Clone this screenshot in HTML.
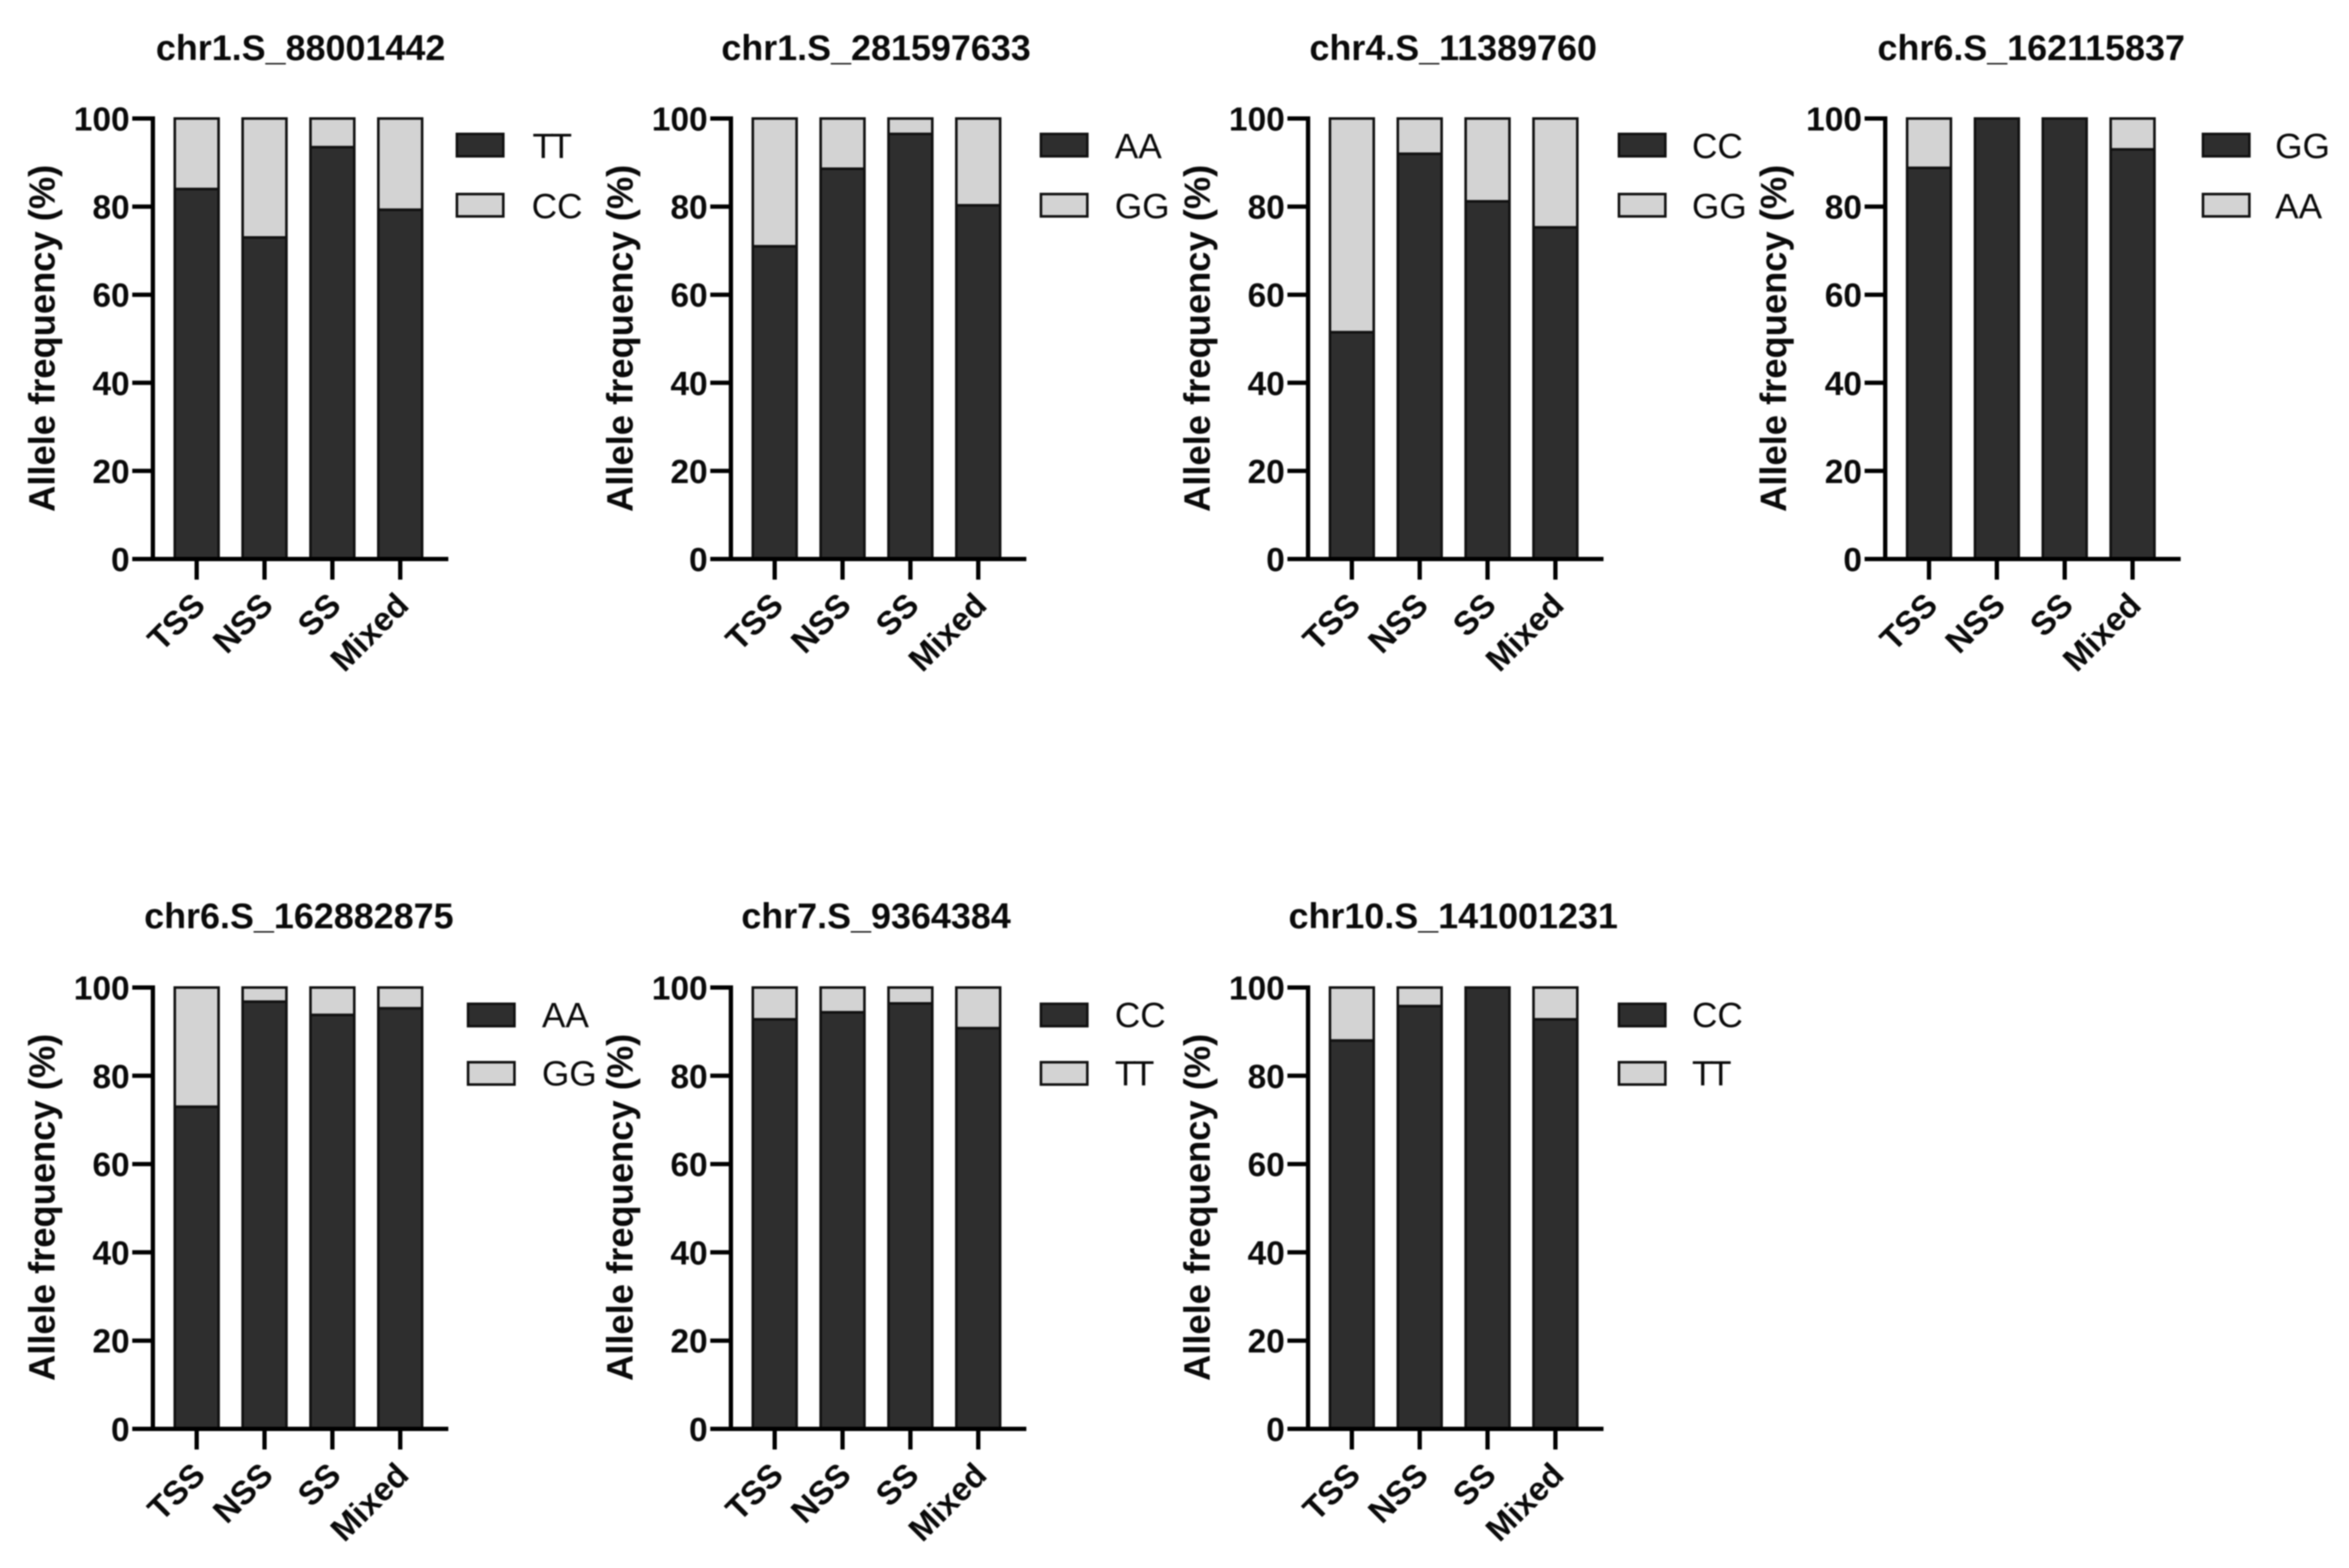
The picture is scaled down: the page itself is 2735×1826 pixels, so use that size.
<!DOCTYPE html>
<html lang="en">
<head>
<meta charset="utf-8">
<title>Allele frequency by group</title>
<style>
html,body{margin:0;padding:0;background:#fff;width:2735px;height:1826px;overflow:hidden}
svg{display:block;filter:blur(0.8px)}
text{font-family:"Liberation Sans",sans-serif;fill:#0a0a0a}
.title{font-size:41.8px;font-weight:700;text-anchor:middle}
.ylab{font-size:42.3px;font-weight:700;text-anchor:middle}
.tick{font-size:39px;font-weight:700;text-anchor:end}
.xlab{font-size:38.5px;font-weight:700;text-anchor:end}
.leg{font-size:41px}
.tt{letter-spacing:-4px}
.sw-d{fill:#2e2e2e;stroke:#111;stroke-width:3}
.sw-l{fill:#d3d3d3;stroke:#111;stroke-width:3}
</style>
</head>
<body>
<svg id="figure" xmlns="http://www.w3.org/2000/svg" width="2735" height="1826" viewBox="0 0 2735 1826">
<rect width="2735" height="1826" fill="#fff"/>

<g class="panel" transform="translate(178,0)" data-top="138" data-base="651">
  <text class="title" x="172" y="70">chr1.S_88001442</text>
  <text class="ylab" transform="translate(-114.5,394) rotate(-90)">Allele frequency (%)</text>
  <rect class="sw-d" x="354" y="156" width="54" height="26"/>
  <text class="leg tt" x="442" y="184">TT</text>
  <rect class="sw-l" x="354" y="226" width="54" height="26"/>
  <text class="leg" x="441" y="254">CC</text>
</g>

<g class="panel" transform="translate(851,0)" data-top="138" data-base="651">
  <text class="title" x="169" y="70">chr1.S_281597633</text>
  <text class="ylab" transform="translate(-114.5,394) rotate(-90)">Allele frequency (%)</text>
  <rect class="sw-d" x="361" y="156" width="54" height="26"/>
  <text class="leg" x="447" y="184">AA</text>
  <rect class="sw-l" x="361" y="226" width="54" height="26"/>
  <text class="leg" x="447" y="254">GG</text>
</g>

<g class="panel" transform="translate(1523,0)" data-top="138" data-base="651">
  <text class="title" x="169" y="70">chr4.S_11389760</text>
  <text class="ylab" transform="translate(-114.5,394) rotate(-90)">Allele frequency (%)</text>
  <rect class="sw-d" x="362" y="156" width="54" height="26"/>
  <text class="leg" x="447" y="184">CC</text>
  <rect class="sw-l" x="362" y="226" width="54" height="26"/>
  <text class="leg" x="447" y="254">GG</text>
</g>

<g class="panel" transform="translate(2195,0)" data-top="138" data-base="651">
  <text class="title" x="170" y="70">chr6.S_162115837</text>
  <text class="ylab" transform="translate(-115.5,394) rotate(-90)">Allele frequency (%)</text>
  <rect class="sw-d" x="370" y="156" width="54" height="26"/>
  <text class="leg" x="454" y="184">GG</text>
  <rect class="sw-l" x="370" y="226" width="54" height="26"/>
  <text class="leg" x="454" y="254">AA</text>
</g>

<g class="panel" transform="translate(178,0)" data-top="1150" data-base="1664">
  <text class="title" x="170" y="1081">chr6.S_162882875</text>
  <text class="ylab" transform="translate(-114.5,1406) rotate(-90)">Allele frequency (%)</text>
  <rect class="sw-d" x="367" y="1169" width="54" height="26"/>
  <text class="leg" x="453" y="1196">AA</text>
  <rect class="sw-l" x="367" y="1237" width="54" height="26"/>
  <text class="leg" x="453" y="1264">GG</text>
</g>

<g class="panel" transform="translate(851,0)" data-top="1150" data-base="1664">
  <text class="title" x="169" y="1081">chr7.S_9364384</text>
  <text class="ylab" transform="translate(-114.5,1406) rotate(-90)">Allele frequency (%)</text>
  <rect class="sw-d" x="361" y="1169" width="54" height="26"/>
  <text class="leg" x="447" y="1196">CC</text>
  <rect class="sw-l" x="361" y="1237" width="54" height="26"/>
  <text class="leg tt" x="447" y="1264">TT</text>
</g>

<g class="panel" transform="translate(1523,0)" data-top="1150" data-base="1664">
  <text class="title" x="169" y="1081">chr10.S_141001231</text>
  <text class="ylab" transform="translate(-114.5,1406) rotate(-90)">Allele frequency (%)</text>
  <rect class="sw-d" x="362" y="1169" width="54" height="26"/>
  <text class="leg" x="447" y="1196">CC</text>
  <rect class="sw-l" x="362" y="1237" width="54" height="26"/>
  <text class="leg tt" x="447" y="1264">TT</text>
</g>
</svg>

<script>
const categories = ["TSS", "NSS", "SS", "Mixed"];
const yTickValues = [0, 20, 40, 60, 80, 100];
const majorSeries1 = [84, 73, 93.5, 79.3];
const minorSeries1 = [16, 27, 6.5, 20.7];
const majorSeries2 = [71, 88.6, 96.5, 80.3];
const minorSeries2 = [29, 11.4, 3.5, 19.7];
const majorSeries3 = [51.5, 92, 81.2, 75.3];
const minorSeries3 = [48.5, 8, 18.8, 24.7];
const majorSeries4 = [88.8, 100, 100, 93];
const minorSeries4 = [11.2, 0, 0, 7];
const majorSeries5 = [73, 96.8, 93.8, 95.3];
const minorSeries5 = [27, 3.2, 6.2, 4.7];
const majorSeries6 = [92.8, 94.4, 96.4, 90.8];
const minorSeries6 = [7.2, 5.6, 3.6, 9.2];
const majorSeries7 = [88, 95.8, 100, 92.8];
const minorSeries7 = [12, 4.2, 0, 7.2];
const allMajor = [majorSeries1, majorSeries2, majorSeries3, majorSeries4, majorSeries5, majorSeries6, majorSeries7];
const allMinor = [minorSeries1, minorSeries2, minorSeries3, minorSeries4, minorSeries5, minorSeries6, minorSeries7];

const NS = "http://www.w3.org/2000/svg";
const BAR_WIDTH = 51;
const BAND_START = 51;
const BAND_STEP = 79;
const AXIS_END = 344;
const TICK_LEN = 24;

function make(parent, tag, attrs) {
  const el = document.createElementNS(NS, tag);
  for (const k in attrs) el.setAttribute(k, attrs[k]);
  parent.appendChild(el);
  return el;
}

function drawPanel(g, majors, minors) {
  const top = +g.getAttribute("data-top");
  const base = +g.getAttribute("data-base");
  const yScale = function (v) { return base + (top - base) * v / 100; };
  const xScale = function (i) { return BAND_START + i * BAND_STEP; };

  categories.forEach(function (cat, i) {
    const cx = xScale(i);
    const h = yScale(0) - yScale(majors[i]);
    const darkBar = make(g, "rect", {x: cx - BAR_WIDTH / 2, y: yScale(majors[i]), width: BAR_WIDTH, height: h, fill: "#2e2e2e", stroke: "#111", "stroke-width": 3});
    
    
    if (minors[i] > 0) {
      const lightBar = make(g, "rect", {x: cx - BAR_WIDTH / 2, y: yScale(majors[i] + minors[i]), width: BAR_WIDTH, height: yScale(majors[i]) - yScale(majors[i] + minors[i]), fill: "#d3d3d3", stroke: "#111", "stroke-width": 3});
      
      
    }
    const xTick = make(g, "line", {x1: cx, x2: cx, y1: base, y2: base + TICK_LEN, stroke: "#000", "stroke-width": 5});
    
    
    const xLabel = make(g, "text", {"class": "xlab", transform: "translate(" + (cx + 12) + "," + (base + 56) + ") rotate(-45)"});
    xLabel.textContent = cat;
    
    
  });

  yTickValues.forEach(function (v) {
    const yTick = make(g, "line", {x1: -TICK_LEN, x2: 0, y1: yScale(v), y2: yScale(v), stroke: "#000", "stroke-width": 5});
    
    
    const yLabel = make(g, "text", {"class": "tick", x: -27, y: yScale(v) + 14});
    yLabel.textContent = v;
    
    
  });

  const yAxis = make(g, "line", {x1: 0, x2: 0, y1: top - 2.5, y2: base + 2.5, stroke: "#000", "stroke-width": 5});
  
  
  const xAxis = make(g, "line", {x1: -TICK_LEN, x2: AXIS_END, y1: base, y2: base, stroke: "#000", "stroke-width": 5});
  
  
}

document.querySelectorAll("g.panel").forEach(function (g, idx) {
  drawPanel(g, allMajor[idx], allMinor[idx]);
});
</script>
</body>
</html>
